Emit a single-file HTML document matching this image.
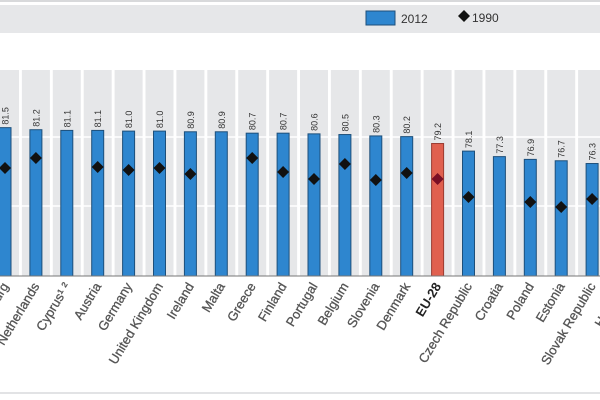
<!DOCTYPE html>
<html><head><meta charset="utf-8"><style>
html,body{margin:0;padding:0;background:#fff;}
svg{display:block;font-family:"Liberation Sans",sans-serif;}
</style></head><body>
<svg width="600" height="400" viewBox="0 0 600 400" xmlns="http://www.w3.org/2000/svg">
<rect x="0" y="0" width="600" height="2" fill="#d8d9db"/>
<rect x="0" y="5" width="600" height="28" fill="#e6e7e9"/>
<rect x="366" y="11" width="29" height="14" fill="#2e86cf" stroke="#1d4f7a" stroke-width="1"/>
<text x="401" y="23" font-size="12" fill="#333">2012</text>
<path d="M464 10 L470 16 L464 22 L458 16 Z" fill="#111"/>
<text x="472" y="22" font-size="12" fill="#333">1990</text>
<rect x="0" y="392" width="600" height="2" fill="#e2e3e5"/>
<g id="cols"></g>
</svg>
<script>
const names=["Luxembourg","Netherlands","Cyprus¹ ²","Austria","Germany","United Kingdom","Ireland","Malta","Greece","Finland","Portugal","Belgium","Slovenia","Denmark","EU-28","Czech Republic","Croatia","Poland","Estonia","Slovak Republic","Hungary"];
const v=[81.5,81.2,81.1,81.1,81.0,81.0,80.9,80.9,80.7,80.7,80.6,80.5,80.3,80.2,79.2,78.1,77.3,76.9,76.7,76.3,75.1];
const d=[168,158,null,167,170,168,174,null,158,172,179,164,180,173,179,197,null,202,207,199,198];
const g=document.getElementById('cols');let s='';
for(let i=0;i<21;i++){const cx=5+30.9*i;s+=`<rect x="${cx-14}" y="70" width="28" height="206" fill="#e6e7e9"/>`;}
s+=`<line x1="0" x2="600" y1="137" y2="137" stroke="#fff" stroke-width="1.5"/><line x1="0" x2="600" y1="206" y2="206" stroke="#fff" stroke-width="1.5"/>`;
for(let i=0;i<21;i++){const cx=5+30.9*i;const y=276-(v[i]-60)*6.9;const eu=i==14;
s+=`<rect x="${cx-6}" y="${y}" width="12" height="${276-y}" fill="${eu?'#e0604f':'#2e86cf'}" stroke="${eu?'#9a3a30':'#1d4f7a'}" stroke-width="1"/>`;
if(i<20)s+=`<text transform="translate(${cx+3.5},${y-3}) rotate(-90)" font-size="9" fill="#333">${v[i].toFixed(1)}</text>`;
if(d[i])s+=`<path d="M${cx} ${d[i]-6} L${cx+6} ${d[i]} L${cx} ${d[i]+6} L${cx-6} ${d[i]} Z" fill="${eu?'#7a0f25':'#111'}"/>`;
s+=`<text transform="translate(${cx+4},${286}) rotate(-59)" text-anchor="end" font-size="13" ${eu?'font-weight="bold" fill="#222"':'fill="#555" stroke="#555" stroke-width="0.3"'}>${names[i]}</text>`;}
s+=`<line x1="0" x2="600" y1="276" y2="276" stroke="#777" stroke-width="1"/>`;
g.innerHTML=s;
</script>
</body></html>
